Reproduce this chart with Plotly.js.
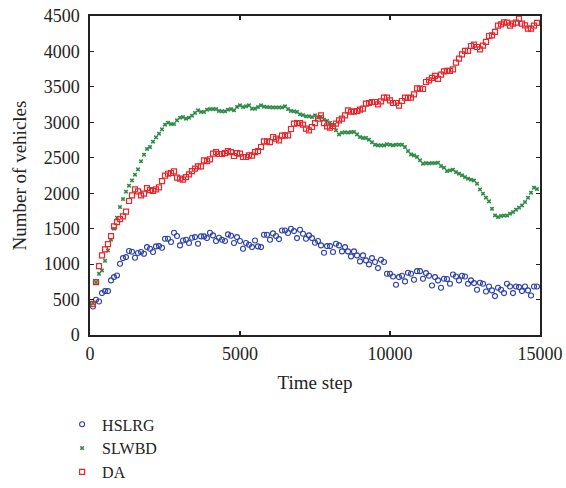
<!DOCTYPE html>
<html>
<head>
<meta charset="utf-8">
<script src="https://cdn.plot.ly/plotly-3.0.1.min.js"></script>
<style>html,body{margin:0;padding:0;background:#fff;}#chart{width:566px;height:488px;}</style>
</head>
<body>
<div id="chart"></div>
<script>
// Time steps (x values)
const timeSteps = [
 100,200,300,400,500,600,700,800,900,1000,1100,1200,1300,1400,1500,1600,1700,1800,1900,2000,
 2100,2200,2300,2400,2500,2600,2700,2800,2900,3000,3100,3200,3300,3400,3500,3600,3700,3800,3900,4000,
 4100,4200,4300,4400,4500,4600,4700,4800,4900,5000,5100,5200,5300,5400,5500,5600,5700,5800,5900,6000,
 6100,6200,6300,6400,6500,6600,6700,6800,6900,7000,7100,7200,7300,7400,7500,7600,7700,7800,7900,8000,
 8100,8200,8300,8400,8500,8600,8700,8800,8900,9000,9100,9200,9300,9400,9500,9600,9700,9800,9900,10000,
 10100,10200,10300,10400,10500,10600,10700,10800,10900,11000,11100,11200,11300,11400,11500,11600,11700,11800,11900,12000,
 12100,12200,12300,12400,12500,12600,12700,12800,12900,13000,13100,13200,13300,13400,13500,13600,13700,13800,13900,14000,
 14100,14200,14300,14400,14500,14600,14700,14800,14900
];

// HSLRG series
const hslrg = [
 403,497,473,591,619,619,770,817,840,1005,1085,1099,1184,1174,1090,1156,1170,1146,1240,1217,
 1170,1250,1254,1231,1358,1358,1311,1443,1396,1264,1334,1344,1297,1372,1381,1287,1391,1391,1367,1443,
 1405,1325,1372,1344,1325,1419,1400,1297,1381,1325,1217,1297,1273,1240,1334,1250,1240,1414,1414,1344,
 1433,1396,1353,1475,1475,1438,1499,1466,1367,1485,1428,1358,1405,1367,1301,1325,1264,1160,1254,1254,
 1170,1287,1264,1179,1240,1179,1109,1179,1123,1038,1123,1052,996,1085,1029,944,1061,1029,864,864,
 826,709,817,836,756,878,864,779,901,901,793,873,836,699,817,770,666,793,789,723,
 854,826,770,836,826,723,770,732,638,737,723,614,685,629,549,666,638,591,723,685,
 591,685,676,619,685,629,558,685,685
];

// SLWBD series
const slwbd = [
 450,746,864,911,1047,1193,1344,1499,1654,1805,1918,2021,2106,2181,2261,2337,2450,2544,2624,2652,
 2727,2788,2840,2901,2967,2995,2976,2976,3028,3066,3075,3052,3066,3094,3132,3169,3146,3146,3179,3188,
 3188,3188,3160,3155,3155,3179,3188,3169,3217,3240,3216,3226,3240,3193,3193,3215,3240,3220,3216,3212,
 3210,3210,3210,3210,3226,3188,3160,3155,3146,3113,3103,3085,3085,3075,3099,3066,3080,3038,3019,2995,
 2958,2887,2830,2854,2860,2855,2862,2865,2830,2793,2779,2779,2755,2718,2685,2675,2675,2675,2690,2685,
 2675,2685,2685,2685,2652,2595,2548,2534,2511,2464,2416,2425,2420,2425,2425,2430,2384,2360,2313,2322,
 2332,2299,2275,2252,2228,2205,2191,2181,2134,2054,1993,1937,1885,1781,1687,1664,1680,1685,1685,1711,
 1734,1767,1796,1828,1875,1937,2007,2078,2059
];

// DA series
const da = [
 440,746,972,1123,1207,1283,1396,1532,1593,1635,1673,1739,1890,1970,2054,2026,1970,1993,2073,2045,
 2031,2054,2082,2172,2247,2275,2285,2308,2219,2205,2191,2228,2266,2313,2346,2379,2379,2464,2454,2478,
 2558,2581,2553,2553,2567,2595,2581,2525,2567,2558,2511,2511,2534,2529,2581,2595,2652,2732,2732,2722,
 2793,2769,2746,2812,2816,2816,2906,2981,2990,2990,2967,2911,2887,2934,2990,3052,3099,2990,2944,2925,
 2948,2981,3028,3052,3099,3169,3150,3150,3160,3179,3193,3263,3273,3287,3287,3254,3296,3348,3348,3311,
 3273,3273,3235,3301,3348,3343,3348,3395,3480,3475,3470,3569,3593,3626,3654,3612,3673,3720,3725,3725,
 3748,3842,3899,3960,4007,4007,4077,4096,4063,4030,4082,4134,4218,4228,4275,4364,4383,4411,4407,4364,
 4393,4407,4463,4393,4369,4322,4322,4364,4402
];

const seriesNames = ["HSLRG", "SLWBD", "DA"];
const xTicks = [0, 5000, 10000, 15000];
const yTicks = [0, 500, 1000, 1500, 2000, 2500, 3000, 3500, 4000, 4500];

const FONT = "Liberation Serif, Times New Roman, serif";

const traces = [
  {x: timeSteps, y: hslrg, name: seriesNames[0], type: "scatter", mode: "markers",
   marker: {symbol: "circle-open", size: 5, color: "#2b3fa6", line: {width: 1.1, color: "#2b3fa6"}}},
  {x: timeSteps, y: slwbd, name: seriesNames[1], type: "scatter", mode: "markers",
   marker: {symbol: "x", size: 4, color: "#2e8a45", line: {width: 0}}},
  {x: timeSteps, y: da, name: seriesNames[2], type: "scatter", mode: "markers",
   marker: {symbol: "square-open", size: 5, color: "#e8262b", line: {width: 1.2, color: "#e8262b"}}}
];

const axisCommon = {
  showgrid: false, zeroline: false, showline: true, mirror: "ticks",
  linecolor: "#222", linewidth: 1.6, ticks: "inside", ticklen: 4, tickwidth: 1.2, tickcolor: "#222",
  tickfont: {family: FONT, size: 18, color: "#222"}
};

const layout = {
  width: 566, height: 488,
  margin: {l: 90, r: 26, t: 16, b: 153, autoexpand: false},
  paper_bgcolor: "#fff", plot_bgcolor: "#fff",
  font: {family: FONT, color: "#222"},
  xaxis: Object.assign({}, axisCommon, {
    range: [0, 15000], tickvals: xTicks, ticktext: xTicks.map(String),
    ticklabelstandoff: 2,
    title: {text: "Time step", font: {family: FONT, size: 19, color: "#222"}, standoff: 12}
  }),
  yaxis: Object.assign({}, axisCommon, {
    range: [0, 4500], tickvals: yTicks, ticktext: yTicks.map(String),
    ticklabelstandoff: 5,
    title: {text: "Number of vehicles", font: {family: FONT, size: 19, color: "#222"}, standoff: 12}
  }),
  showlegend: true,
  legend: {
    orientation: "v", x: -0.062, xanchor: "left", y: -0.227, yanchor: "top",
    font: {family: FONT, size: 16, color: "#222"}, bgcolor: "rgba(0,0,0,0)", borderwidth: 0,
    itemwidth: 30
  }
};

Plotly.newPlot("chart", traces, layout, {displayModeBar: false, staticPlot: true});
</script>
</body>
</html>
